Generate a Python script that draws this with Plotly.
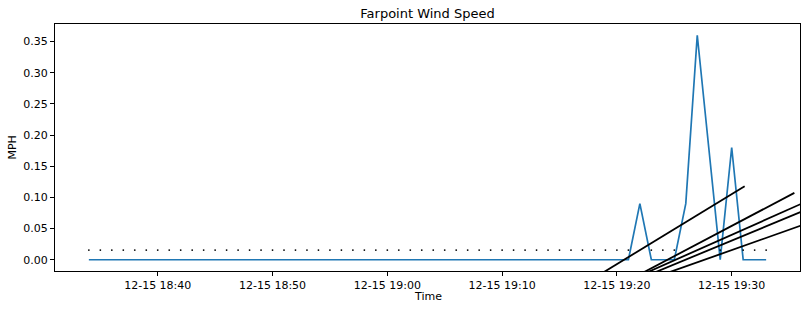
import pandas as pd
import numpy as np
import plotly.graph_objects as go

# ---- data ----
start_time = "2023-12-15 18:34"
n_points = 60  # one reading per minute, 18:34 .. 19:33
times = pd.date_range(start_time, periods=n_points, freq="1min")

speed_mph = [
    0.0, 0.0, 0.0, 0.0, 0.0, 0.0, 0.0, 0.0, 0.0, 0.0,   # 18:34-18:43
    0.0, 0.0, 0.0, 0.0, 0.0, 0.0, 0.0, 0.0, 0.0, 0.0,   # 18:44-18:53
    0.0, 0.0, 0.0, 0.0, 0.0, 0.0, 0.0, 0.0, 0.0, 0.0,   # 18:54-19:03
    0.0, 0.0, 0.0, 0.0, 0.0, 0.0, 0.0, 0.0, 0.0, 0.0,   # 19:04-19:13
    0.0, 0.0, 0.0, 0.0, 0.0, 0.0, 0.0, 0.0, 0.09, 0.0,  # 19:14-19:23
    0.0, 0.0, 0.09, 0.36, 0.18, 0.0, 0.18, 0.0, 0.0, 0.0,  # 19:24-19:33
]

# wind arrow direction (screen angle, degrees above horizontal) for non-calm readings
arrow_angle_deg = {
    "2023-12-15 19:22": 31.4,
    "2023-12-15 19:26": 27.8,
    "2023-12-15 19:27": 24.0,
    "2023-12-15 19:28": 22.5,
    "2023-12-15 19:30": 19.5,
}

arrow_row_y = 0.0155          # baseline row for the direction markers
arrow_px_per_mph = 1364.0     # half-length of arrow in pixels per mph

y_ticks = [0.00, 0.05, 0.10, 0.15, 0.20, 0.25, 0.30, 0.35]
x_tick_times = ["2023-12-15 18:40", "2023-12-15 18:50", "2023-12-15 19:00",
                "2023-12-15 19:10", "2023-12-15 19:20", "2023-12-15 19:30"]

# ---- layout geometry ----
W, H = 806, 311
ML, MR, MT, MB = 55, 6, 24, 40
plot_w = W - ML - MR
plot_h = H - MT - MB

pad = (times[-1] - times[0]) * 0.05
x_range = [times[0] - pad, times[-1] + pad]
y_range = [-0.018, 0.378]

ms_per_px = (x_range[1] - x_range[0]).total_seconds() * 1000.0 / plot_w
val_per_px = (y_range[1] - y_range[0]) / plot_h

fig = go.Figure()

fig.add_trace(go.Scatter(
    x=times, y=speed_mph, mode="lines",
    line=dict(color="#1f77b4", width=1.7), hoverinfo="skip", showlegend=False))

# calm readings -> dots
calm_t = [t for t, s in zip(times, speed_mph) if s == 0]
fig.add_trace(go.Scatter(
    x=calm_t, y=[arrow_row_y] * len(calm_t), mode="markers",
    marker=dict(color="black", size=1.8), hoverinfo="skip", showlegend=False))

# non-calm readings -> direction lines centred on the row
for t, s in zip(times, speed_mph):
    if s == 0:
        continue
    a = np.deg2rad(arrow_angle_deg[t.strftime("%Y-%m-%d %H:%M")])
    L = s * arrow_px_per_mph
    dt = pd.Timedelta(milliseconds=L * np.cos(a) * ms_per_px)
    dy = L * np.sin(a) * val_per_px
    fig.add_trace(go.Scatter(
        x=[t - dt, t + dt], y=[arrow_row_y - dy, arrow_row_y + dy], mode="lines",
        line=dict(color="black", width=1.8), hoverinfo="skip", showlegend=False))

axis_common = dict(
    showline=True, mirror=True, linecolor="black", linewidth=1,
    ticks="outside", ticklen=4, tickwidth=1, tickcolor="black",
    showgrid=False, zeroline=False,
    tickfont=dict(family="DejaVu Sans", size=11, color="black"),
)

fig.update_layout(
    width=W, height=H,
    margin=dict(l=ML, r=MR, t=MT, b=MB),
    paper_bgcolor="white", plot_bgcolor="white",
    font=dict(family="DejaVu Sans", size=11, color="black"),
    title=dict(text="Farpoint Wind Speed", x=0.5, xref="paper", xanchor="center",
               y=1 - 13 / H, yref="container", yanchor="middle",
               font=dict(family="DejaVu Sans", size=13, color="black")),
    xaxis=dict(range=x_range, tickvals=pd.to_datetime(x_tick_times),
               tickformat="%m-%d %H:%M", **axis_common),
    yaxis=dict(range=y_range, tickvals=y_ticks,
               ticktext=[f"{v:.2f}" for v in y_ticks], **axis_common),
    annotations=[
        dict(text="Time", xref="paper", yref="paper", x=0.5, y=-(297 - (H - MB)) / plot_h,
             xanchor="center", yanchor="middle", showarrow=False,
             font=dict(family="DejaVu Sans", size=11, color="black")),
        dict(text="MPH", xref="paper", yref="paper", x=(12 - ML) / plot_w, y=0.5,
             xanchor="center", yanchor="middle", textangle=-90, showarrow=False,
             font=dict(family="DejaVu Sans", size=11, color="black")),
    ],
)

fig.write_html("out.html")
